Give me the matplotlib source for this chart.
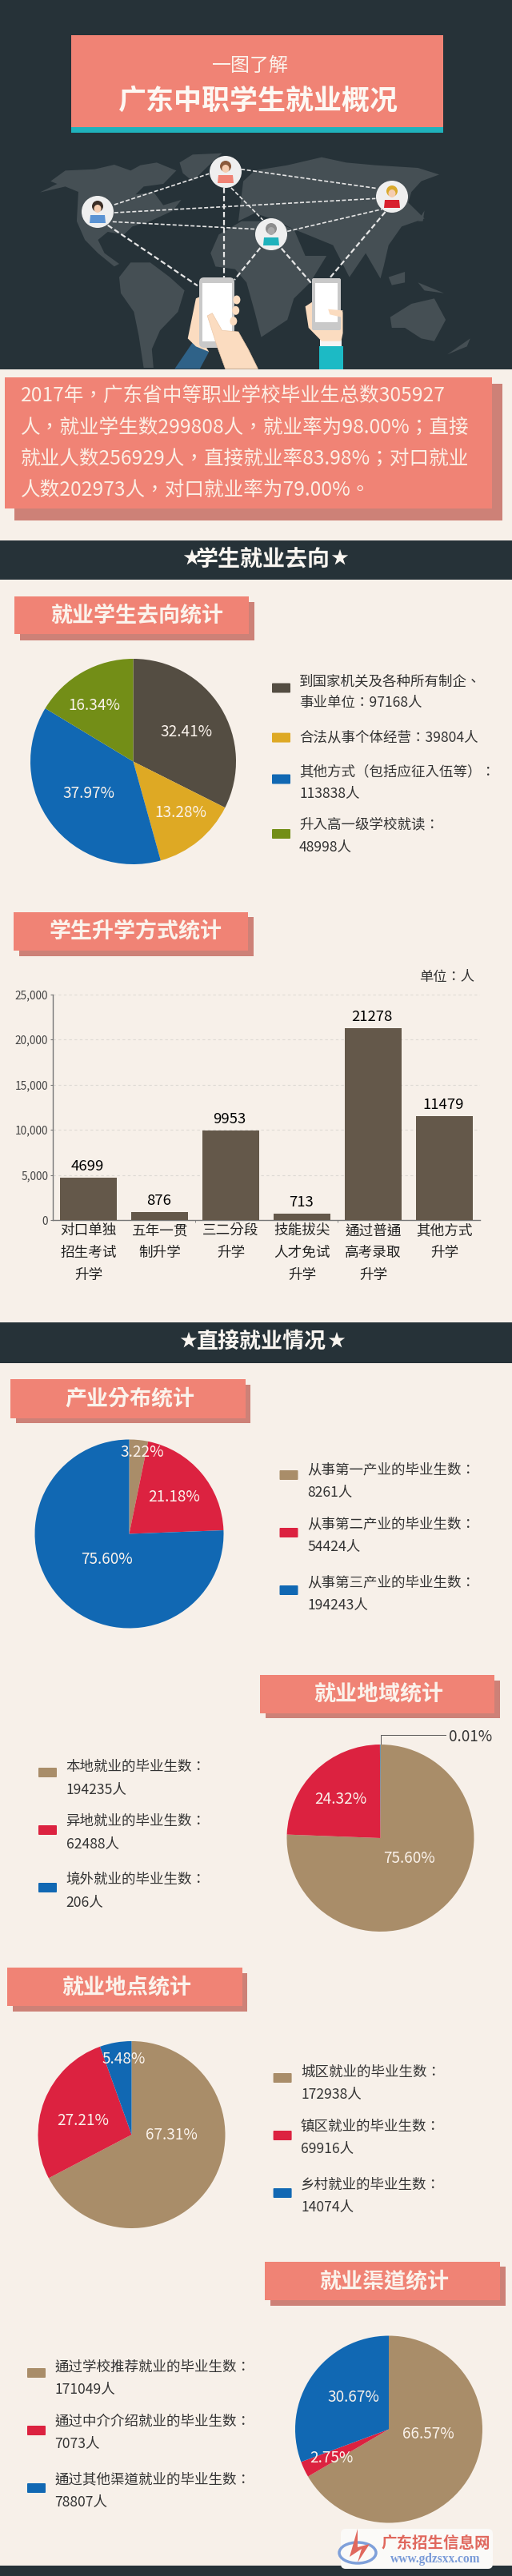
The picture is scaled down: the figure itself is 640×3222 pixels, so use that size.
import matplotlib
matplotlib.use('Agg')
import matplotlib.pyplot as plt
from matplotlib.patches import Rectangle, Polygon, Ellipse, Circle, FancyBboxPatch

# the TC cut centres the full-width punctuation, as the reference does
plt.rcParams['font.family'] = ['Noto Sans CJK TC', 'Noto Sans CJK SC', 'DejaVu Sans']

# colours
BG = '#F7F0E9'
DARK = '#263238'
SALMON = '#F08375'
SHADOW = '#CD8177'
TAN = '#A98D69'
RED = '#DC2240'
BLUE = '#1168B3'

# data
go_values = [97168, 39804, 113838, 48998]
go_pct = ['32.41%', '13.28%', '37.97%', '16.34%']
go_colors = ['#544D42', '#DEA924', BLUE, '#738E17']
go_legend = [['到国家机关及各种所有制企、', '事业单位：97168人'],
             ['合法从事个体经营：39804人'],
             ['其他方式（包括应征入伍等）：', '113838人'],
             ['升入高一级学校就读：', '48998人']]

study_labels = ['对口单独\n招生考试\n升学', '五年一贯\n制升学', '三二分段\n升学',
                '技能拔尖\n人才免试\n升学', '通过普通\n高考录取\n升学', '其他方式\n升学']
study_values = [4699, 876, 9953, 713, 21278, 11479]

industry_values = [8261, 54424, 194243]
industry_pct = ['3.22%', '21.18%', '75.60%']
industry_legend = [['从事第一产业的毕业生数：', '8261人'],
                   ['从事第二产业的毕业生数：', '54424人'],
                   ['从事第三产业的毕业生数：', '194243人']]

region_values = [194235, 62488, 206]
region_pct = ['75.60%', '24.32%', '0.01%']
region_legend = [['本地就业的毕业生数：', '194235人'],
                 ['异地就业的毕业生数：', '62488人'],
                 ['境外就业的毕业生数：', '206人']]

place_values = [172938, 69916, 14074]
place_pct = ['67.31%', '27.21%', '5.48%']
place_legend = [['城区就业的毕业生数：', '172938人'],
                ['镇区就业的毕业生数：', '69916人'],
                ['乡村就业的毕业生数：', '14074人']]

channel_values = [171049, 7073, 78807]
channel_pct = ['66.57%', '2.75%', '30.67%']
channel_legend = [['通过学校推荐就业的毕业生数：', '171049人'],
                  ['通过中介介绍就业的毕业生数：', '7073人'],
                  ['通过其他渠道就业的毕业生数：', '78807人']]

intro_lines = ['2017年，广东省中等职业学校毕业生总数305927',
               '人，就业学生数299808人，就业率为98.00%；直接',
               '就业人数256929人，直接就业率83.98%；对口就业',
               '人数202973人，对口就业率为79.00%。']

W, H = 640, 3222
fig = plt.figure(figsize=(W / 100, H / 100), dpi=100, facecolor=BG)
page = fig.add_axes([0, 0, 1, 1])
page.set_xlim(0, W)
page.set_ylim(H, 0)
page.axis('off')


def px(size):
    return size * 0.72


def rect(x0, y0, x1, y1, color, z=1):
    page.add_patch(Rectangle((x0, y0), x1 - x0, y1 - y0, color=color, lw=0, zorder=z))


def label(x, y, s, size, color='#333333', ha='center', weight='normal', **kw):
    page.text(x, y, s, fontsize=px(size), color=color, ha=ha, va='center', weight=weight, **kw)


def title_box(x0, y0, x1, y1, sx1, sy0, sy1, s, tx, ty, size=27):
    rect(x0 + 7, sy0, sx1, sy1, SHADOW, 2)
    rect(x0, y0, x1, y1, SALMON, 3)
    label(tx, ty, s, size, '#FBF3EC', weight='bold', zorder=4)


def band(y0, y1, s, tx, ty, size, star_l, star_r):
    rect(0, y0, W, y1, DARK)
    label(tx, ty, s, size, '#F9F5F0', weight='bold', zorder=2)
    label(star_l, ty, '★', 22, '#F9F5F0', zorder=2)
    label(star_r, ty, '★', 22, '#F9F5F0', zorder=2)


def pie_at(cx, cy, r, values, colors):
    ax = fig.add_axes([(cx - r) / W, 1 - (cy + r) / H, 2 * r / W, 2 * r / H])
    ax.pie(values, colors=colors, startangle=90, counterclock=False, radius=1,
           wedgeprops={'linewidth': 0})
    ax.set_xlim(-1, 1)
    ax.set_ylim(-1, 1)
    return ax


def pie_labels(ax, pct, spots, color='#FBF3EC', size=19):
    for s, (x, y) in zip(pct, spots):
        ax.text(x, y, s, transform=page.transData, fontsize=px(size), color=color,
                ha='center', va='center', clip_on=False)


def legend(colors, entries, sw_x, text_x, sw_ys, line_ys, size=17.5):
    for c, lines, sy, ys in zip(colors, entries, sw_ys, line_ys):
        page.add_patch(FancyBboxPatch((sw_x + 1, sy - 5), 21, 10, boxstyle='round,pad=1',
                                      color=c, lw=0, zorder=3))
        for s, y in zip(lines, ys):
            label(text_x, y, s, size, '#333333', ha='left', zorder=3)


# header artwork, outlines given on a 2.45 x 3 grid
def Z(pts):
    return [(x / 2.45, y / 3) for x, y in pts]


rect(0, 0, W, 462, DARK)
rect(89, 44, 554, 159, SALMON, 3)
rect(89, 159, 554, 166, '#1FB2BC', 3)
label(313, 82, '一图了解', 24, '#FBF3EC', zorder=4)
label(322, 126, '广东中职学生就业概况', 35, '#FDF8F3', weight='bold', zorder=4)

land = [
    [(122, 722), (175, 690), (155, 680), (200, 640), (290, 635), (350, 618), (400, 640), (430, 620),
     (480, 610), (540, 640), (500, 690), (440, 700), (415, 730), (470, 720), (500, 770), (555, 750),
     (530, 790), (460, 830), (405, 850), (380, 880), (330, 870), (300, 900), (320, 950), (365, 990),
     (350, 1000), (300, 950), (260, 900), (235, 830), (240, 720), (200, 700)],
    [(365, 1040), (400, 985), (460, 985), (520, 1040), (565, 1090), (545, 1170), (490, 1240),
     (465, 1310), (470, 1380), (440, 1380), (425, 1260), (410, 1170), (370, 1100)],
    [(550, 610), (590, 580), (680, 575), (640, 620), (590, 680), (560, 650)],
    [(645, 950), (670, 880), (740, 830), (830, 830), (900, 860), (935, 960), (1000, 960), (950, 1060),
     (900, 1120), (880, 1200), (800, 1265), (780, 1170), (755, 1060), (720, 1010), (660, 1000)],
    [(730, 830), (745, 680), (780, 640), (880, 620), (985, 590), (1060, 610), (1150, 620), (1280, 630),
     (1345, 655), (1290, 680), (1260, 720), (1250, 760), (1300, 820), (1230, 850), (1190, 920),
     (1175, 1000), (1165, 1045), (1120, 950), (1070, 1040), (1020, 920), (940, 880), (900, 860),
     (830, 820), (780, 800)],
    [(1195, 1190), (1260, 1140), (1330, 1120), (1365, 1200), (1330, 1280), (1290, 1270), (1240, 1230),
     (1200, 1230)],
    [(1190, 1040), (1240, 1020), (1240, 1060), (1200, 1070)],
    [(1280, 1060), (1360, 1100), (1300, 1090)],
    [(1370, 1330), (1440, 1270), (1430, 1300)],
    [(1280, 830), (1300, 790), (1295, 830)],
]
for shape in land:
    page.add_patch(Polygon(Z(shape), color='#454F54', lw=0, zorder=2))

links = [((350, 768), (640, 652), 1.2), ((350, 798), (1150, 745), 1.2), ((345, 832), (785, 860), 1.2),
         ((738, 635), (1155, 707), 1.2), ((708, 705), (805, 825), 1.2), ((880, 868), (1170, 785), 1.2),
         ((330, 845), (605, 1072), 1.6), ((685, 705), (685, 1040), 1.6), ((797, 930), (718, 1050), 1.6),
         ((862, 932), (955, 1065), 1.6), ((1180, 795), (1010, 1043), 1.6)]
for a, b, lw in links:
    (x0, y0), (x1, y1) = Z([a, b])
    page.plot([x0, x1], [y0, y1], color='#E6E6E6', lw=lw, ls=(0, (3, 1.5)), zorder=3)

# sleeves, hands and phones
page.add_patch(Polygon(Z([(535, 1384), (590, 1285), (640, 1320), (612, 1384)]), color='#2F6288', lw=0, zorder=4))
rect(399, 433, 429, 462, '#1CBAC5', 4)
rect(400, 425, 427, 433, '#F4F4F4', 4)
skin = '#FBDCC0'
page.add_patch(Polygon(Z([(575, 1270), (600, 1120), (618, 1110), (630, 1300), (640, 1320), (600, 1300)]),
                       color=skin, lw=0, zorder=4))
page.add_patch(FancyBboxPatch((249, 347), 44, 88, boxstyle='round,pad=0,rounding_size=6',
                              color='#C9C9C9', lw=0, zorder=5))
rect(253, 354, 290, 427, 'white', 6)
for fx, fy in [(725, 1125), (722, 1165), (715, 1205)]:
    xc, yc = Z([(fx, fy)])[0]
    page.add_patch(Ellipse((xc, yc), 9, 11, color=skin, lw=0, zorder=6))
page.add_patch(Polygon(Z([(635, 1185), (650, 1175), (680, 1240), (730, 1245), (760, 1310), (790, 1384),
                          (690, 1384), (665, 1300)]), color=skin, ec='#EBC8A8', lw=0.5, zorder=7))
page.add_patch(Polygon(Z([(960, 1130), (985, 1140), (985, 1235), (1050, 1170), (1050, 1250), (1045, 1280),
                          (985, 1280), (945, 1230), (935, 1150)]), color=skin, lw=0, zorder=4))
page.add_patch(FancyBboxPatch((390, 348), 36, 65, boxstyle='round,pad=0,rounding_size=2',
                              color='#C9C9C9', lw=0, zorder=5))
rect(394, 354, 422, 403, 'white', 6)
page.add_patch(Polygon(Z([(1005, 1160), (1050, 1165), (1045, 1190), (1010, 1180)]), color=skin, lw=0, zorder=7))

# people in the circles
people = [(282, 215, '#F08375', '#8A5A3C', '#F5CDB0'), (122, 265, '#5B93D3', '#3B2E26', '#F5CDB0'),
          (490, 246, '#D8202E', '#D9A92B', '#F5CDB0'), (339, 293, '#1FB2BC', '#8C8C8C', '#A8A8A8')]
for x, y, body, hair, face in people:
    page.add_patch(Circle((x, y), 20, color='#EFEFEF', lw=0, zorder=8))
    page.add_patch(Polygon([(x - 10, y + 14), (x - 9, y + 4), (x + 9, y + 4), (x + 10, y + 14)],
                           color=body, lw=0, zorder=9))
    page.add_patch(Circle((x, y - 7), 7, color=hair, lw=0, zorder=9))
    page.add_patch(Ellipse((x, y - 4), 9, 10, color=face, lw=0, zorder=10))

# intro box
rect(18, 480, 628, 651, SHADOW, 2)
rect(6, 472, 615, 636, SALMON, 3)
for s, y in zip(intro_lines, [495, 535, 574, 612.5]):
    label(26, y, s, 24.6, '#FCEFE5', ha='left', zorder=4)

band(676, 725, '学生就业去向', 328.6, 699, 28, 239, 424.5)

title_box(18, 746, 311, 793, 317.5, 753, 801, '就业学生去向统计', 171, 769)
ax1 = pie_at(166.5, 952.5, 128.5, go_values, go_colors)
pie_labels(ax1, go_pct, [(233, 915.5), (226, 1016), (111, 993), (118, 882)])
legend(go_colors, go_legend, 340, 374, [860.5, 922.6, 974.5, 1043],
       [[852, 879], [922.6], [965, 992], [1031, 1058.6]])

# bar section
title_box(17, 1141, 310, 1189, 317, 1147, 1196, '学生升学方式统计', 170, 1165)
label(593, 1222.5, '单位：人', 17.3, ha='right')
bar_ax = fig.add_axes([66 / W, 1 - 1526 / H, (600 - 66) / W, (1526 - 1243.6) / H], facecolor='none')
xs = range(len(study_values))
bars = bar_ax.bar(xs, study_values, width=0.8, color='#64584A', zorder=3)
for x, v in zip(xs, study_values):
    bar_ax.annotate(str(v), (x, v), xytext=(-1, 3.5), textcoords='offset points', ha='center', va='bottom',
                    fontsize=px(18.5), color='black')
bar_ax.set_xlim(-0.5, 5.5)
bar_ax.set_ylim(0, 25000)
bar_ax.set_yticks([0, 5000, 10000, 15000, 20000, 25000])
bar_ax.set_yticklabels(['0', '5,000', '10,000', '15,000', '20,000', '25,000'], fontsize=px(13.6), color='#444444')
bar_ax.set_xticks(list(xs))
bar_ax.set_xticklabels(study_labels, fontsize=px(17.6), color='#222222', linespacing=1.7)
bar_ax.set_xticks([1.5, 3.5], minor=True)
bar_ax.tick_params(axis='x', which='major', length=0, pad=3)
bar_ax.tick_params(axis='x', which='minor', length=2, color='#777777', direction='out')
bar_ax.tick_params(axis='y', length=2.2, color='#777777', pad=2)
bar_ax.yaxis.grid(True, ls=(0, (3, 3)), color='#DEDAD4', lw=0.8, zorder=0)
bar_ax.set_axisbelow(True)
for side in ['top', 'right']:
    bar_ax.spines[side].set_visible(False)
for side in ['left', 'bottom']:
    bar_ax.spines[side].set_color('#777777')
    bar_ax.spines[side].set_linewidth(1)

band(1654, 1705, '直接就业情况', 327, 1678, 27, 235, 420)

three = [TAN, RED, BLUE]

title_box(13, 1725, 306.5, 1774, 313, 1732, 1780, '产业分布统计', 162, 1749)
ax3 = pie_at(161.5, 1918.5, 118, industry_values, [TAN, RED, BLUE])
pie_labels(ax3, industry_pct, [(178, 1817), (217.5, 1873), (133.5, 1950)])
legend(three, industry_legend, 349.5, 384, [1845, 1917, 1989],
       [[1838, 1866], [1906, 1934], [1979, 2007]])

title_box(325, 2095, 618, 2142.5, 624.5, 2102, 2149, '就业地域统计', 473.5, 2118)
ax4 = pie_at(475.5, 2299, 117, region_values, [TAN, RED, BLUE])
pie_labels(ax4, region_pct[:2], [(512, 2324), (425.7, 2250)])
page.plot([475.5, 475.5, 557], [2201, 2170, 2170], color='#555555', lw=0.7, zorder=6)
label(588, 2172, region_pct[2], 19, '#333333', zorder=6)
legend(three, region_legend, 48, 82.5, [2217, 2289, 2361],
       [[2210, 2238], [2278, 2306], [2351, 2379]])

title_box(9, 2461, 302.5, 2509, 308.5, 2468, 2516, '就业地点统计', 158, 2485)
ax5 = pie_at(164.5, 2670, 117, place_values, [TAN, RED, BLUE])
pie_labels(ax5, place_pct, [(214, 2670), (104, 2653), (155, 2575.5)])
legend(three, place_legend, 341.6, 376, [2599, 2671, 2743],
       [[2592, 2619.5], [2660, 2687.5], [2732.5, 2760]])

title_box(331, 2829, 625, 2877, 631.5, 2835, 2884, '就业渠道统计', 480, 2853)
ax6 = pie_at(486, 3038.5, 117, channel_values, [TAN, RED, BLUE])
pie_labels(ax6, channel_pct, [(535, 3045), (414, 3075), (441.6, 2998)])
legend(three, channel_legend, 34, 68.5, [2968, 3040, 3112],
       [[2961, 2988], [3029, 3056], [3101, 3129]])

# foot and watermark
rect(0, 3209, W, H, DARK)
page.add_patch(FancyBboxPatch((428, 3165), 186, 46, boxstyle='round,pad=2,rounding_size=6',
                              color='#FBFAF8', lw=0, zorder=3))
page.add_patch(Ellipse((447, 3193), 46, 26, fill=False, ec='#7FA0DA', lw=2.5, zorder=4))
page.add_patch(Polygon([(447, 3163), (437, 3198), (452, 3188), (447, 3205), (462, 3182), (447, 3186)],
                       color='#E0685E', lw=0, zorder=5))
label(545, 3182, '广东招生信息网', 19.5, '#E0685E', weight='bold', zorder=5)
label(544, 3201, 'www.gdzsxx.com', 15.5, '#7A9BD8', weight='bold', family='Liberation Serif', zorder=5)

fig.savefig('out.png', dpi=100, facecolor=BG)
